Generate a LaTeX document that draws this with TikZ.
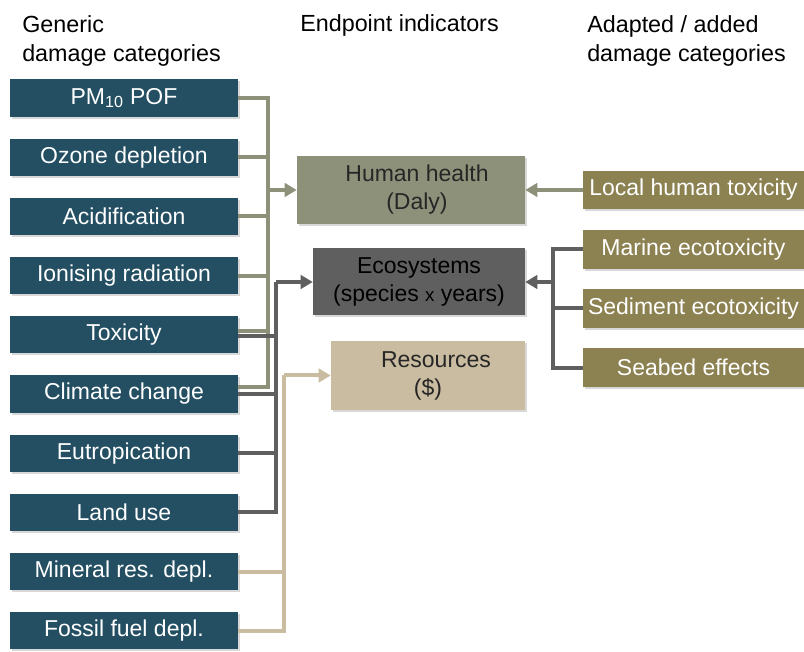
\documentclass[tikz,border=0pt]{standalone}
\usepackage{fontspec}
\setmainfont{Liberation Sans}
\usetikzlibrary{positioning, arrows.meta, shadows}

\definecolor{catblue}{HTML}{244F63}
\definecolor{healthgreen}{HTML}{8E917A}
\definecolor{ecogray}{HTML}{5F5F5F}
\definecolor{restan}{HTML}{C9BCA0}
\definecolor{addolive}{HTML}{8C8151}

\tikzset{
  boxshadow/.style={drop shadow={shadow xshift=1.2pt, shadow yshift=-1.5pt, opacity=.3}},
  catbox/.style={rectangle, fill=catblue, text=white, minimum width=171pt, minimum height=28pt, inner sep=0pt, boxshadow},
  addbox/.style={rectangle, fill=addolive, text=white, minimum width=165.75pt, minimum height=29pt, inner sep=0pt, boxshadow},
  endbox/.style={rectangle, align=center, text=black!85, inner sep=0pt, boxshadow},
  hdr/.style={align=left, anchor=base west, inner sep=0pt, font=\fontsize{17.5}{21.75}\selectfont},
  link/.style={line width=3pt},
  tip/.style={-{Triangle[length=9pt, width=10pt]}}
}

\begin{document}
\begin{tikzpicture}[x=0.75pt, y=-0.75pt, every node/.style={font=\fontsize{17.25}{21}\selectfont}, node distance=44.4pt]
    \useasboundingbox[fill=white] (0,0) rectangle (804,652);

    % headers (base = last line)
    \node[hdr] (hgeneric) at (22,62) {Generic\\damage categories};
    \node[hdr] (hendpoint) at (300,32) {Endpoint indicators};
    \node[hdr] (hadded) at (587,62) {Adapted / added\\damage categories};

    % generic damage categories
    \node[catbox] (pm) at (124,98) {PM\textsubscript{10} POF};
    \node[catbox, below of=pm] (ozone) {Ozone depletion};
    \node[catbox, below of=ozone] (acid) {Acidification};
    \node[catbox, below of=acid] (ionising) {Ionising radiation};
    \node[catbox, below of=ionising] (tox) {Toxicity};
    \node[catbox, below of=tox] (climate) {Climate change};
    \node[catbox, below of=climate] (eutro) {Eutropication};
    \node[catbox, below of=eutro] (land) {Land use};
    \node[catbox, below of=land] (mineral) {Mineral res. depl.};
    \node[catbox, below of=mineral] (fossil) {Fossil fuel depl.};

    % endpoint indicators
    \node[endbox, fill=healthgreen, minimum width=171pt, minimum height=51pt] (health) at (411,190) {\hspace*{9pt}Human health\\\hspace*{9pt}(Daly)};
    \node[endbox, fill=ecogray, text=black, minimum width=159pt, minimum height=50.25pt] (eco) at (419,282) {Ecosystems\\(species {\fontsize{14}{14}\selectfont x} years)};
    \node[endbox, fill=restan, minimum width=145.5pt, minimum height=51.75pt] (res) at (428,375.5) {\hspace*{12pt}Resources\\(\$)};

    % adapted / added categories
    \node[addbox] (localtox) at (693.5,190) {Local human toxicity};
    \node[addbox, below of=localtox] (marine) {Marine ecotoxicity};
    \node[addbox, below of=marine] (sediment) {Sediment ecotoxicity};
    \node[addbox, below of=sediment] (seabed) {Seabed effects};

    % buses
    \coordinate (hbus) at (268,190);
    \coordinate (ebus) at (276,282);
    \coordinate (rbus) at (284,375.5);
    \coordinate (abus) at (553,282);

    \draw[link, healthgreen] (pm.east) -| (hbus);
    \draw[link, healthgreen] (ozone.east) -| (hbus);
    \draw[link, healthgreen] (acid.east) -| (hbus);
    \draw[link, healthgreen] (ionising.east) -| (hbus);
    \draw[link, healthgreen] ([yshift=3pt]tox.east) -| (hbus);
    \draw[link, healthgreen] ([yshift=5pt]climate.east) -| (hbus);
    \draw[link, healthgreen, tip] (hbus) -- (health);

    \draw[link, ecogray] ([yshift=-1pt]tox.east) -| (ebus);
    \draw[link, ecogray] (climate.east) -| (ebus);
    \draw[link, ecogray] (eutro.east) -| (ebus);
    \draw[link, ecogray] (land.east) -| (ebus);
    \draw[link, ecogray, tip] (ebus) -- (eco);

    \draw[link, restan] (mineral.east) -| (rbus);
    \draw[link, restan] (fossil.east) -| (rbus);
    \draw[link, restan, tip] (rbus) -- (res);

    \draw[link, healthgreen, tip] (localtox) -- (health);
    \draw[link, ecogray] (marine.west) -| (abus);
    \draw[link, ecogray] (sediment.west) -| (abus);
    \draw[link, ecogray] (seabed.west) -| (abus);
    \draw[link, ecogray, tip] (abus) -- (eco);
  \end{tikzpicture}
\end{document}
